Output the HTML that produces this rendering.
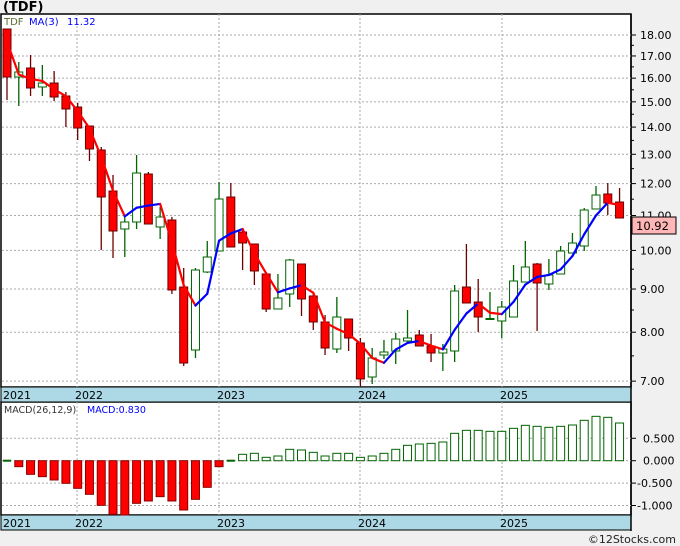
<!DOCTYPE html><html><head><meta charset="utf-8"><style>
body{margin:0;background:#f0f0f0;width:680px;height:546px;overflow:hidden;font-family:"DejaVu Sans","Liberation Sans",sans-serif}
svg{position:absolute;left:0;top:0}
text{font-family:"DejaVu Sans","Liberation Sans",sans-serif}
</style></head><body>
<svg id="s" width="680" height="546" xmlns="http://www.w3.org/2000/svg"></svg>
<script>
const S=document.getElementById('s');let h='';
const add=t=>h+=t;
add('<rect x="1" y="14" width="630" height="373" fill="#fff" stroke="#000" stroke-width="1.5"/>');
add('<rect x="1" y="402" width="630" height="113" fill="#fff" stroke="#000" stroke-width="1.5"/>');
add('<rect x="1" y="387" width="630" height="15" fill="#add8e6" stroke="#000"/>');
add('<rect x="1" y="515" width="630" height="15" fill="#add8e6" stroke="#000"/>');
add('<line x1="631" y1="14" x2="631" y2="531" stroke="#000" stroke-width="1.5"/>');
add('<text x="3" y="11" font-size="13" font-weight="bold" fill="#000">(TDF)</text>');
const Y=p=>35+366.5*Math.log(18/p);
for(let p=7;p<=18;p++){const y=Y(p);add(`<line x1="2" y1="${y}" x2="631" y2="${y}" stroke="#aaa" stroke-dasharray="2,2"/>`);add(`<line x1="631" y1="${y}" x2="636" y2="${y}" stroke="#000"/>`);add(`<text x="640" y="${y+4}" font-size="11" fill="#000">${p.toFixed(2)}</text>`);}
for(let p=7.5;p<18;p+=1){const y=Y(p);add(`<line x1="631" y1="${y}" x2="634" y2="${y}" stroke="#000"/>`);}
const yrs=[[5,'2021'],[77,'2022'],[219,'2023'],[360,'2024'],[502,'2025']];
for(const [x,l] of yrs){ if(x>5){add(`<line x1="${x}" y1="14" x2="${x}" y2="387" stroke="#aaa" stroke-dasharray="2,2"/>`);add(`<line x1="${x}" y1="402" x2="${x}" y2="515" stroke="#aaa" stroke-dasharray="2,2"/>`);}
 add(`<text x="${x-2}" y="399" font-size="11">${l}</text>`);add(`<text x="${x-2}" y="527" font-size="11">${l}</text>`);}
const C=[[29,77,29,100,0],[72,77,62,106,1],[68,88,55,96,0],[83,87,65,96,1],[83,97,71,101,0],[96,109,92,127,0],[107,128,103,140,0],[126,149,126,161,0],[150,197,147,250,0],[191,231,175,258,0],[222,229,216,257,1],[173,222,155,229,1],[174,224,172,224,0],[217,227,207,239,1],[220,290,217,294,0],[287,363,268,366,0],[270,350,268,358,1],[257,272,241,273,1],[199,251,182,251,1],[197,247,183,247,0],[232,243,228,270,0],[244,271,244,285,0],[274,309,272,312,0],[298,309,274,309,1],[260,294,259,307,1],[264,299,264,316,0],[296,322,292,330,0],[322,348,315,355,0],[317,349,297,353,1],[319,338,319,351,0],[343,379,338,387,0],[358,377,348,384,1],[352,355,340,359,1],[339,351,333,364,1],[338,341,310,342,1],[335,346,330,346,0],[346,353,334,362,0],[349,353,344,371,1],[291,351,285,362,1],[287,303,244,303,0],[302,317,279,332,0],[318.5,319.5,292,319.5,1],[307,321,301,338,1],[281,317,265,317,1],[267,282,241,282,1],[264,283,263,331,0],[275,284,259,290,1],[251,274,246,274,1],[243,253,233,253,1],[210,246,208,251,1],[195,209,186,209,1],[194,203,183,215,0],[202,218,188,218,0]];
const X=i=>7+11.78*i;
const P=y=>18*Math.exp(-(y-35)/366.5);
C.forEach((c,i)=>{const x=X(i);const col=c[4]?'#006400':'#6b0000';
 add(`<line x1="${x}" y1="${c[2]}" x2="${x}" y2="${c[3]}" stroke="${col}" stroke-width="1.3"/>`);
 add(`<rect x="${x-4}" y="${c[0]}" width="8" height="${Math.max(c[1]-c[0],1)}" fill="${c[4]?'#fff':'#f00'}" stroke="${col}"/>`);});
const cl=C.map(c=>P(c[4]?c[0]:c[1]));
const ma=cl.map((v,i)=>{const a=cl.slice(Math.max(0,i-2),i+1);return a.reduce((s,x)=>s+x,0)/a.length});
ma[0]=P(50);
for(let i=1;i<ma.length;i++){const col=ma[i]<ma[i-1]?'#f00':'#0000ff';
 add(`<line x1="${i==1?10:X(i-1)}" y1="${Y(ma[i-1])}" x2="${X(i)}" y2="${Y(ma[i])}" stroke="${col}" stroke-width="2.2" stroke-linecap="round"/>`);}
add('<text x="4" y="25" font-size="10" fill="#556b2f">TDF</text><text x="29" y="25" font-size="10" fill="#0000ff">MA(3)</text><text x="67" y="25" font-size="10" fill="#0000ff">11.32</text>');
add('<rect x="632" y="217" width="44" height="17" fill="#ffb6b6" stroke="#000"/><text x="636" y="230" font-size="11.5">10.92</text>');
const Z=460.7,K=44.8;
[[0.5,'0.500'],[0,'0.000'],[-0.5,'-0.500'],[-1,'-1.000']].forEach(([v,l])=>{const y=Z-v*K;add(`<line x1="2" y1="${y}" x2="631" y2="${y}" stroke="#aaa" stroke-dasharray="2,2"/>`);add(`<line x1="631" y1="${y}" x2="636" y2="${y}" stroke="#000"/>`);add(`<text x="${v<0?637:643}" y="${y+4}" font-size="11">${l}</text>`);});
const red=[290,313,320,330,340,355,373,406,433,435,400,393,380,393,420,388,352,290];
const grn=[253,250,262,258,238,240,247,258,250,250,262,258,250,238,226,222,220,216,190,181,181,184,184,175,166,169,172,169,165,151,139,142,159];
add(`<line x1="${X(0)-4}" y1="${Z}" x2="${X(0)+4}" y2="${Z}" stroke="#006400" stroke-width="2"/>`);
red.forEach((v,k)=>{const y=v/3+370;add(`<rect x="${X(k+1)-4}" y="${Z}" width="8" height="${y-Z}" fill="#f00" stroke="#8b0000"/>`);});
add(`<line x1="${X(19)-4}" y1="${Z}" x2="${X(19)+4}" y2="${Z}" stroke="#006400" stroke-width="2"/>`);
grn.forEach((v,k)=>{const y=v/3+370;add(`<rect x="${X(k+20)-4}" y="${y}" width="8" height="${Z-y}" fill="#fff" stroke="#006400"/>`);});
add('<text x="4" y="413" font-size="9.5" fill="#333">MACD(26,12,9)</text><text x="87" y="413" font-size="9.5" fill="#0000ff">MACD:0.830</text>');
add('<text x="676" y="543" font-size="11" text-anchor="end" fill="#222">©12Stocks.com</text>');
S.innerHTML=h;
</script></body></html>
